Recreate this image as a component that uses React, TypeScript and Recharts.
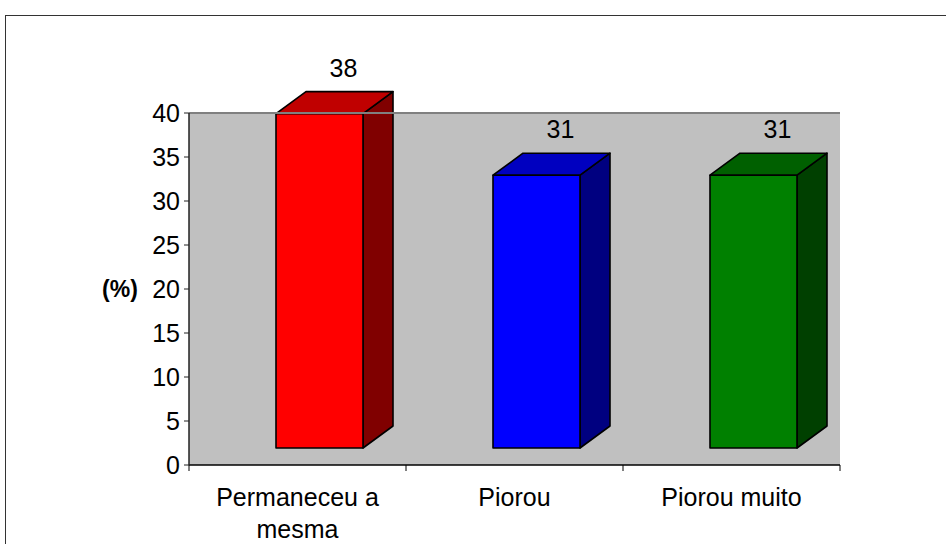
import React from 'react';
import {
  BarChart,
  Bar,
  XAxis,
  YAxis,
  CartesianGrid,
  ReferenceLine,
  LabelList,
} from 'recharts';

const categories = ['Permaneceu a mesma', 'Piorou', 'Piorou muito'];
const percentValues = [38, 31, 31];
const yTicks = [0, 5, 10, 15, 20, 25, 30, 35, 40];

const frontColors = ['#FF0000', '#0000FF', '#008000'];
const topColors = ['#C00000', '#0000C0', '#006000'];
const sideColors = ['#800000', '#000080', '#004000'];

const data = categories.map((name, i) => ({ name, value: percentValues[i] }));

const W = 946;
const H = 544;
const FONT = '"Liberation Sans", Arial, sans-serif';
const MARGIN = { top: 113, right: 106, left: 129, bottom: 49 };
const PLOT_W = W - MARGIN.left - 60 - MARGIN.right;
const HALF_BAND = PLOT_W / categories.length / 2;

// fake 3d: front face is pushed right and lifted, back face offset up-right
const SHIFT_X = 22;
const LIFT = 17;
const DEPTH_X = 30;
const DEPTH_Y = 22;

// greedy wrap, Excel breaks these labels at about 12 chars
const wrap = (label: string, maxChars = 12) => {
  const lines: string[] = [];
  let cur = '';
  label.split(' ').forEach((w) => {
    const next = cur ? cur + ' ' + w : w;
    if (next.length > maxChars && cur) {
      lines.push(cur);
      cur = w;
    } else {
      cur = next;
    }
  });
  if (cur) lines.push(cur);
  return lines;
};

const Bar3D = (props: any) => {
  const { x, y, width, height, index } = props;
  const fx = x + SHIFT_X;
  const fy = y - LIFT;
  const top = `${fx},${fy} ${fx + DEPTH_X},${fy - DEPTH_Y} ${fx + width + DEPTH_X},${fy - DEPTH_Y} ${fx + width},${fy}`;
  const side = `${fx + width},${fy} ${fx + width + DEPTH_X},${fy - DEPTH_Y} ${fx + width + DEPTH_X},${fy + height - DEPTH_Y} ${fx + width},${fy + height}`;
  return (
    <g stroke="#000" strokeWidth={1.6} strokeLinejoin="round">
      <polygon points={side} fill={sideColors[index]} />
      <polygon points={top} fill={topColors[index]} />
      <rect x={fx} y={fy} width={width} height={height} fill={frontColors[index]} />
    </g>
  );
};

const BarLabel = (props: any) => {
  const { x, y, width, value } = props;
  return (
    <text
      x={x + SHIFT_X + width / 2 + DEPTH_X - 6}
      y={y - LIFT - DEPTH_Y - 15}
      textAnchor="middle"
      fontSize={25}
      fontFamily={FONT}
      fill="#000"
    >
      {value}
    </text>
  );
};

const CategoryTick = (props: any) => {
  const { x, y, payload, index } = props;
  const lines = wrap(String(payload.value));
  return (
    <g>
      {index === 0 && (
        <line x1={x - HALF_BAND} y1={y - 8} x2={x - HALF_BAND} y2={y - 2} stroke="#000" />
      )}
      <line x1={x + HALF_BAND} y1={y - 8} x2={x + HALF_BAND} y2={y - 2} stroke="#000" />
      <text textAnchor="middle" fontSize={25} fontFamily={FONT} fill="#000">
        {lines.map((ln, i) => (
          <tspan key={i} x={x} y={y + 33 + i * 32}>
            {ln}
          </tspan>
        ))}
      </text>
    </g>
  );
};

const PercentLabel = (props: any) => {
  const { viewBox } = props;
  return (
    <text
      x={viewBox.x - 9}
      y={viewBox.y + viewBox.height / 2 + 8}
      textAnchor="middle"
      fontSize={23}
      fontWeight="bold"
      fontFamily={FONT}
      fill="#000"
    >
      (%)
    </text>
  );
};

export default function App() {
  return (
    <div style={{ position: 'absolute', left: 0, top: 0, width: W, height: H, overflow: 'hidden', background: '#fff' }}>
      <div
        style={{
          position: 'absolute',
          left: 5,
          top: 15,
          width: 1000,
          height: 600,
          border: '1.5px solid #333',
          boxSizing: 'border-box',
        }}
      />
      <div style={{ position: 'absolute', left: 0, top: 0 }}>
        <BarChart width={W} height={H} data={data} margin={MARGIN}>
          <CartesianGrid horizontal={false} vertical={false} fill="#C0C0C0" yAxisId="left" />
          <XAxis
            dataKey="name"
            axisLine={{ stroke: '#000', strokeWidth: 1.5 }}
            tickLine={false}
            tick={<CategoryTick />}
            interval={0}
            height={30}
          />
          <YAxis
            yAxisId="left"
            domain={[0, 40]}
            ticks={yTicks}
            width={60}
            axisLine={{ stroke: '#222', strokeWidth: 1.5 }}
            tickLine={{ stroke: '#222' }}
            tickSize={5}
            tickMargin={4}
            tick={{ fontSize: 25, fontFamily: FONT, fill: '#000' }}
            label={<PercentLabel />}
          />
          <YAxis
            yAxisId="right"
            orientation="right"
            width={0}
            tick={false}
            tickLine={false}
            axisLine={{ stroke: '#808080', strokeWidth: 2 }}
          />
          <ReferenceLine yAxisId="left" y={40} stroke="#808080" strokeWidth={2} />
          <Bar
            yAxisId="left"
            dataKey="value"
            barSize={87}
            shape={<Bar3D />}
            isAnimationActive={false}
          >
            <LabelList dataKey="value" content={<BarLabel />} />
          </Bar>
        </BarChart>
      </div>
    </div>
  );
}
